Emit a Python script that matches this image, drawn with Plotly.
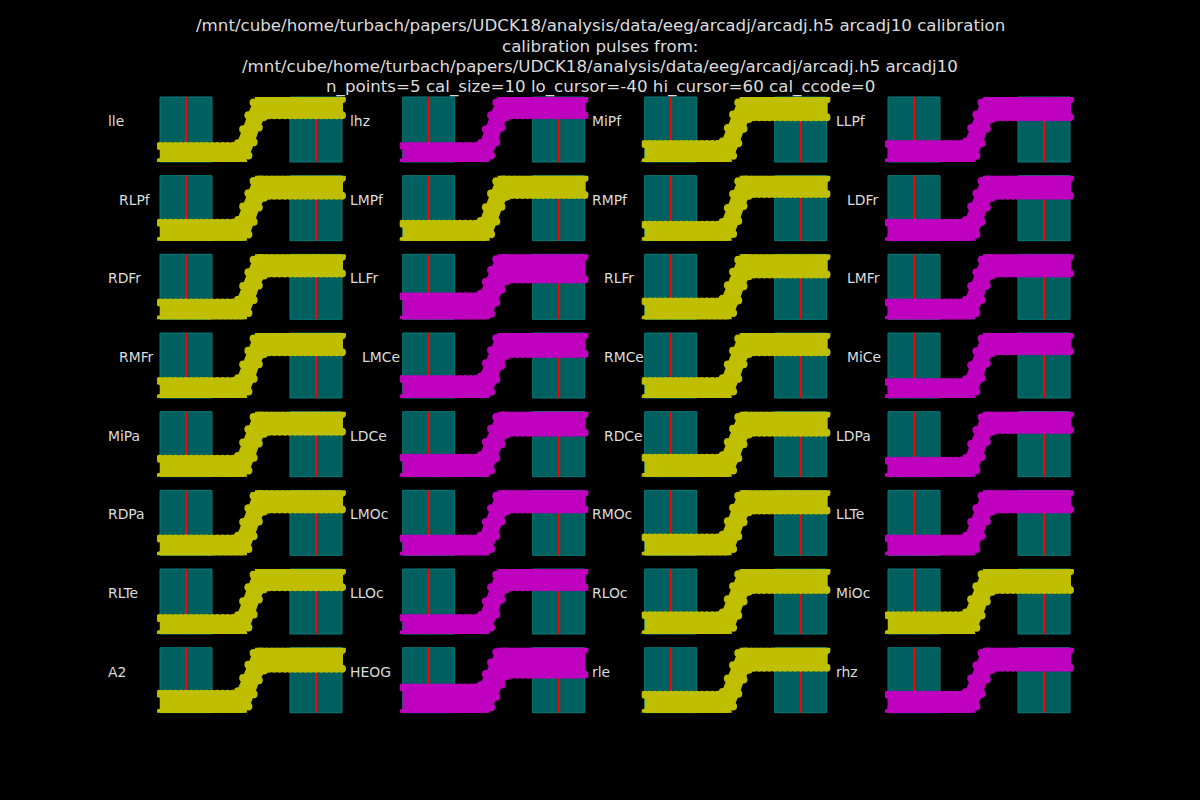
import plotly.graph_objects as go

# ---------------- data ----------------
title_lines = [
    "/mnt/cube/home/turbach/papers/UDCK18/analysis/data/eeg/arcadj/arcadj.h5 arcadj10 calibration",
    "calibration pulses from:",
    "/mnt/cube/home/turbach/papers/UDCK18/analysis/data/eeg/arcadj/arcadj.h5 arcadj10",
    "n_points=5 cal_size=10 lo_cursor=-40 hi_cursor=60 cal_ccode=0",
]

channels = ["lle", "lhz", "MiPf", "LLPf",
            "RLPf", "LMPf", "RMPf", "LDFr",
            "RDFr", "LLFr", "RLFr", "LMFr",
            "RMFr", "LMCe", "RMCe", "MiCe",
            "MiPa", "LDCe", "RDCe", "LDPa",
            "RDPa", "LMOc", "RMOc", "LLTe",
            "RLTe", "LLOc", "RLOc", "MiOc",
            "A2", "HEOG", "rle", "rhz"]

# y = yellow, m = magenta
channel_color = ["y", "m", "y", "m",
                 "y", "y", "y", "m",
                 "y", "m", "y", "m",
                 "y", "m", "y", "m",
                 "y", "m", "y", "m",
                 "y", "m", "y", "m",
                 "y", "m", "y", "y",
                 "y", "m", "y", "m"]

# thickness of the overlaid-epoch band (uV), estimated per channel
band_uv = [3.4, 3.4, 4.0, 4.0,
           4.0, 3.7, 3.4, 4.0,
           3.7, 5.8, 4.0, 3.7,
           3.7, 4.3, 3.7, 3.4,
           4.0, 4.3, 4.3, 3.4,
           3.7, 3.7, 4.0, 3.7,
           3.4, 3.4, 4.3, 4.3,
           4.3, 6.6, 4.0, 4.0]

# label shifted right (narrow tick area) or not
label_shift = [0, 0, 0, 0,
               1, 0, 0, 1,
               0, 0, 1, 1,
               1, 1, 1, 1,
               0, 0, 1, 0,
               0, 0, 0, 0,
               0, 0, 0, 0,
               0, 0, 0, 0]

cal_size = 10
lo_cursor = -40
hi_cursor = 60
cursor_halfwidth = 20

times_ms = [-60, -56, -52, -48, -44, -40, -36, -32, -28, -24, -20, -16, -12, -8, -4,
            0, 4, 8, 12, 16, 20,
            24, 28, 32, 36, 40, 44, 48, 52, 56, 60, 64, 68, 72, 76, 80]
# earliest and latest rising epochs (fraction of cal pulse)
early_shape = [0] * 15 + [0.06, 0.36, 0.66, 0.93, 1.05, 1.02] + [1.0] * 15
late_shape = [0] * 15 + [0.0, 0.0, 0.14, 0.42, 0.74, 0.96] + [1.0] * 15

# ---------------- layout ----------------
W, H = 1200, 800
col_left = [157, 399.7, 641.7, 885]
col_w = 189
row_top0 = 97
row_step = 78.67
row_h = 65

colors = {"y": "#bfbf00", "m": "#bf00bf"}
txt_color = "#dcdcdc"

fig = go.Figure()
shapes = []
annotations = []

for i, ch in enumerate(channels):
    r, c = divmod(i, 4)
    n = i + 1
    xs = "" if n == 1 else str(n)
    x0 = col_left[c] / W
    x1 = (col_left[c] + col_w) / W
    top = row_top0 + r * row_step
    y1 = 1 - top / H
    y0 = 1 - (top + row_h) / H

    w = band_uv[i]
    upper = [cal_size * v + w / 2 for v in early_shape]
    lower = [cal_size * v - w / 2 for v in late_shape]
    col = colors[channel_color[i]]

    fig.add_trace(go.Scatter(
        x=times_ms + times_ms[::-1],
        y=upper + lower[::-1],
        mode="lines+markers",
        fill="toself",
        fillcolor=col,
        line=dict(color=col, width=2),
        marker=dict(color=col, size=8),
        xaxis="x" + xs, yaxis="y" + xs,
        showlegend=False, hoverinfo="skip",
    ))

    ymin = min(lower)
    ymax = max(upper)
    fig.layout["xaxis" + xs] = dict(domain=[x0, x1], range=[-62.3, 83.1],
                                   visible=False, anchor="y" + xs)
    fig.layout["yaxis" + xs] = dict(domain=[y0, y1], range=[ymin, ymax],
                                   visible=False, anchor="x" + xs)

    for cur in (lo_cursor, hi_cursor):
        shapes.append(dict(type="rect", xref="x" + xs, yref="y" + xs + " domain",
                           x0=cur - cursor_halfwidth, x1=cur + cursor_halfwidth,
                           y0=0, y1=1, fillcolor="#006060",
                           line=dict(color="#007c7c", width=1), layer="below"))
        shapes.append(dict(type="line", xref="x" + xs, yref="y" + xs + " domain",
                           x0=cur, x1=cur, y0=0, y1=1,
                           line=dict(color="#ff0000", width=2), layer="below"))

    lx = col_left[c] + (-39.7 if label_shift[i] else -51.3)
    annotations.append(dict(text=ch, x=lx / W, y=1 - (top + 24) / H,
                            xref="paper", yref="paper", xanchor="left", yanchor="middle",
                            showarrow=False,
                            font=dict(family="DejaVu Sans", size=13.9, color=txt_color)))

title_y = [25, 46, 66, 86.5]
for line, ty in zip(title_lines, title_y):
    annotations.append(dict(text=line, x=0.5, y=1 - ty / H, xref="paper", yref="paper",
                            xanchor="center", yanchor="middle", showarrow=False,
                            font=dict(family="DejaVu Sans", size=16.67, color=txt_color)))

fig.update_layout(
    width=W, height=H,
    margin=dict(l=0, r=0, t=0, b=0),
    paper_bgcolor="black", plot_bgcolor="black",
    shapes=shapes, annotations=annotations,
)

fig.write_html("out.html")
